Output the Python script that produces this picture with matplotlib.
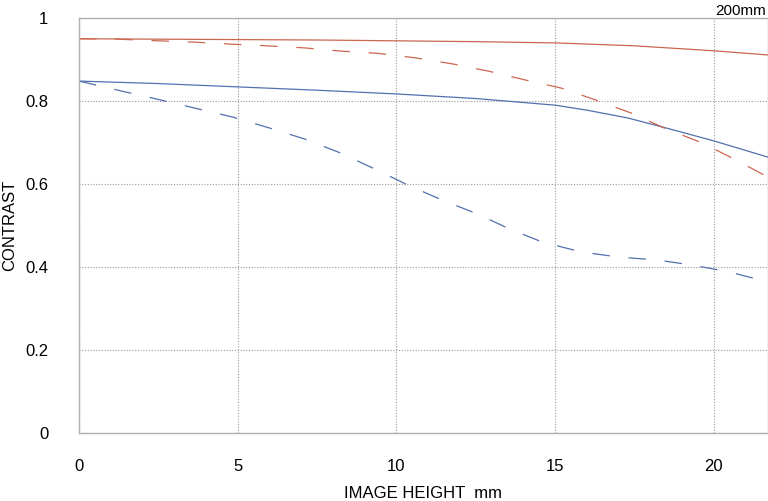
import matplotlib
matplotlib.use('Agg')
from matplotlib import pyplot as plt

# MTF curves (200mm)
red_solid_x = [0, 2.5, 5, 7.5, 10, 12.5, 15, 17.5, 20, 21.7]
red_solid_y = [0.950, 0.949, 0.948, 0.947, 0.945, 0.943, 0.940, 0.933, 0.921, 0.911]

red_dash_x = [0, 1.2, 2.5, 3.6, 4.8, 5.9, 7.1, 8.3, 9.4, 10.6, 11.8, 12.9,
              14.1, 15.2, 16.3, 17.4, 18.5, 19.6, 20.6, 21.7]
red_dash_y = [0.950, 0.949, 0.945, 0.942, 0.937, 0.933, 0.928, 0.920, 0.915, 0.904,
              0.889, 0.872, 0.850, 0.831, 0.802, 0.771, 0.733, 0.700, 0.662, 0.617]

blue_solid_x = [0, 2.5, 5, 7.5, 10, 12.5, 15, 16, 17.3, 18.5, 20, 21.7]
blue_solid_y = [0.848, 0.842, 0.834, 0.826, 0.817, 0.806, 0.790, 0.778, 0.759,
                0.735, 0.704, 0.665]

blue_dash_x = [0, 1.45, 2.6, 3.75, 4.86, 6.0, 7.13, 8.23, 9.27, 10.35, 11.45,
               12.55, 13.5, 14.6, 15.85, 17.0, 18.2, 19.3, 20.5, 21.7]
blue_dash_y = [0.848, 0.822, 0.802, 0.781, 0.761, 0.735, 0.708, 0.675, 0.638, 0.598,
               0.561, 0.528, 0.494, 0.460, 0.436, 0.424, 0.417, 0.405, 0.388, 0.364]

xticks = [0, 5, 10, 15, 20]
yticks = [0, 0.2, 0.4, 0.6, 0.8, 1]
ytick_labels = ['0', '0.2', '0.4', '0.6', '0.8', '1']

plt.rcParams['font.family'] = ['Liberation Sans', 'DejaVu Sans']

fig = plt.figure(figsize=(7.68, 5.01), dpi=100)
ax = fig.add_axes([79/768, 68/501, 689/768 - 0.0005, 415/501])

red = '#cc6650'
blue = '#5270ae'
ax.plot(red_solid_x, red_solid_y, color=red, lw=0.9)
ax.plot(blue_solid_x, blue_solid_y, color=blue, lw=0.9)
ax.plot(red_dash_x, red_dash_y, color=red, lw=0.9, dashes=(14, 15))
ax.plot(blue_dash_x, blue_dash_y, color=blue, lw=0.9, dashes=(14, 15))

ax.set_xlim(0, 21.7)
ax.set_ylim(0, 1)
ax.set_xticks(xticks)
ax.set_yticks(yticks)
ax.set_yticklabels(ytick_labels)
ax.tick_params(length=0, labelsize=12)
ax.tick_params(axis='x', pad=19)
ax.tick_params(axis='y', pad=22)

ax.grid(True, color='#999999', linestyle=(0, (1, 1.5)), lw=0.8)
for s in ax.spines.values():
    s.set_color('#b0b0b0')
    s.set_linewidth(1.0)

# axis titles placed by hand, as in the reference
fig.text(423/768, 1 - 494/501, 'IMAGE HEIGHT  mm', ha='center', va='center', fontsize=12)
fig.text(10/768, 1 - 225/501, 'CONTRAST', ha='center', va='center',
         rotation=90, fontsize=12)
fig.text(0.998, 0.992, '200mm', ha='right', va='top', fontsize=11)

fig.savefig('out.png')
